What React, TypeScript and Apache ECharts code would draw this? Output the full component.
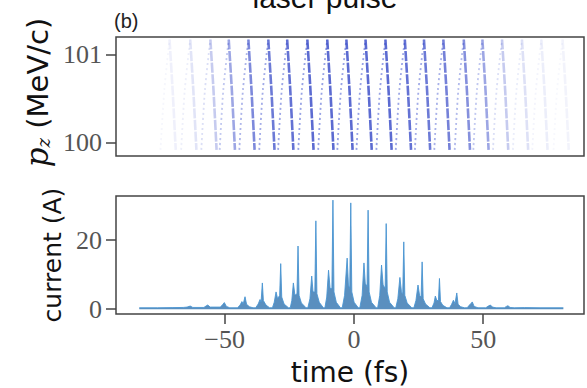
import React, { useEffect, useRef } from "react";
import * as echarts from "echarts";

// ---- axis ticks ----
const timeTicks = [-50, 0, 50];
const pzTicks = [100, 101];
const currentTicks = [0, 20];

// ---- bottom panel: current (A) vs time (fs) ----
const currentTime = [
  -83, -76, -70, -66, -64.5, -63.3, -62.3, -58, -57.2, -56.5, -55.6, -51.6, -50.8, -50.1, -49.3, -48,
  -45, -44, -43.3, -42.8, -42.1, -41.5, -40.4, -39,
  -38, -37, -36.3, -35.9, -35.4, -35.0, -34, -32.6,
  -31.5, -30.8, -30.1, -29.5, -28.7, -28.3, -27.9, -27, -25.3,
  -24.6, -24, -23.4, -22.8, -22, -21.6, -21.2, -20.3, -18.5,
  -17.8, -17, -16.3, -15.8, -15.1, -14.7, -14.3, -13.4, -11.8,
  -11.2, -10.5, -9.8, -9.2, -8.5, -8.1, -7.7, -6.8, -5.2,
  -4.5, -3.6, -2.6, -2.1, -1.6, -1.2, -0.8, 0.1, 1.7,
  2.3, 3.2, 3.9, 4.4, 5.1, 5.5, 5.9, 6.8, 8.6,
  9.2, 10, 10.7, 11.3, 12.1, 12.5, 12.9, 13.8, 15.6,
  16.2, 17, 17.8, 18.4, 18.9, 19.3, 19.7, 20.6, 22.4,
  23.2, 24, 24.8, 25.4, 26, 26.4, 26.8, 27.7, 29.4,
  30.2, 31, 31.5, 32.1, 32.7, 33.1, 33.5, 34.4, 36,
  37, 37.8, 38.5, 39.1, 39.8, 40.3, 41.3, 42.8,
  43.8, 44.6, 45.2, 45.8, 46.5, 48,
  51, 52, 52.8, 53.6, 55,
  58.2, 59, 59.6, 60.4, 62,
  66, 72, 81,
];
const currentAmp = [
  0.4, 0.4, 0.45, 0.5, 0.6, 0.9, 0.5, 0.5, 0.9, 1.2, 0.6, 0.6, 1.3, 1.9, 0.8, 0.4,
  0.4, 1.2, 2.2, 1.5, 3.6, 1.4, 0.7, 0.4,
  0.4, 1.5, 2.8, 2.0, 7.6, 2.5, 1.2, 0.4,
  0.4, 2.0, 5.0, 3.0, 4.0, 13.2, 3.5, 1.5, 0.4,
  0.4, 2.5, 7.6, 4, 4.5, 18.3, 4, 1.8, 0.4,
  0.4, 3, 9.6, 5, 5, 25.6, 4.5, 2, 0.4,
  0.4, 3.5, 11.3, 6, 6, 31.6, 5, 2, 0.4,
  0.4, 4, 14.8, 7, 6, 30.8, 5, 2, 0.4,
  0.4, 4, 13.4, 7.5, 6.5, 28.7, 5, 2, 0.4,
  0.4, 4, 12.8, 7, 6, 24.8, 5, 2, 0.4,
  0.4, 3, 9.2, 5, 4.5, 19.5, 4, 1.8, 0.4,
  0.4, 2.5, 7, 4, 3.5, 13.7, 3, 1.5, 0.4,
  0.4, 1.8, 3.8, 2.5, 2.5, 8.9, 2.2, 1.1, 0.4,
  0.4, 1.4, 2.6, 1.6, 4.7, 1.4, 0.7, 0.4,
  0.4, 1.1, 1.6, 2.1, 0.8, 0.4,
  0.4, 0.9, 1.2, 0.6, 0.4,
  0.4, 0.8, 1.0, 0.5, 0.4,
  0.45, 0.4, 0.4,
];

// ---- top panel: phase-space arcs (time in fs) ----
const arcTip = [-71.3, -63.3, -55.5, -48.4, -40.8, -33.1, -25.8, -18.0, -10.3, -2.9, 4.5, 12.2, 19.7, 27.1, 34.6, 42.5, 49.7, 57.3, 65.0, 72.5, 80.7];
const arcLeftFoot = [-74.8, -66.8, -59.0, -51.9, -44.3, -36.6, -29.3, -21.5, -13.8, -6.4, 1.0, 8.7, 16.2, 23.6, 31.1, 39.0, 46.2, 53.8, 61.5, 69.0, 77.2];
const arcLeftMid = [-73.3, -65.4, -57.6, -50.5, -42.9, -35.2, -27.9, -20.1, -12.4, -5.0, 2.4, 10.1, 17.6, 25.0, 32.5, 40.4, 47.6, 55.2, 62.9, 70.4, 78.6];
const arcRightMid = [-70.1, -62.1, -54.3, -47.2, -39.6, -31.9, -24.6, -16.8, -9.1, -1.7, 5.7, 13.4, 20.9, 28.3, 35.8, 43.7, 50.9, 58.5, 66.2, 73.7, 81.9];
const arcRightFoot = [-68.9, -60.9, -53.1, -46.0, -38.4, -30.7, -23.4, -15.6, -7.9, -0.5, 6.9, 14.6, 22.1, 29.5, 37.0, 44.9, 52.1, 59.7, 67.4, 74.9, 83.1];
const arcStrength = [0.1, 0.18, 0.35, 0.6, 0.8, 0.9, 0.95, 1, 1, 1, 1, 1, 0.95, 0.9, 0.85, 0.75, 0.6, 0.35, 0.2, 0.12, 0.08];
const arcPz = [99.92, 100.6, 101.17]; // foot, mid, tip

const minusFmt = (v: number) => (v < 0 ? "\u2212" + Math.abs(v) : String(v));

export default function App() {
  const ref = useRef<HTMLDivElement>(null);
  useEffect(() => {
    const chart = echarts.init(ref.current!, null, { renderer: "svg" });
    const tickFont = { fontFamily: "Liberation Serif", fontSize: 26, color: "#555" };
    const frame = "#444";

    const arcSeries: any[] = [];
    arcTip.forEach((tip, i) => {
      const s = arcStrength[i];
      arcSeries.push({
        type: "line",
        xAxisIndex: 0,
        yAxisIndex: 0,
        showSymbol: false,
        smooth: 0.3,
        data: [
          [arcLeftFoot[i], arcPz[0]],
          [arcLeftMid[i], arcPz[1]],
          [tip, arcPz[2]],
        ],
        lineStyle: { color: "#4457d0", width: 1.8, type: [2, 3], opacity: 0.55 * s },
      });
      arcSeries.push({
        type: "line",
        xAxisIndex: 0,
        yAxisIndex: 0,
        showSymbol: false,
        smooth: 0.2,
        data: [
          [tip, arcPz[2]],
          [arcRightMid[i], arcPz[1]],
          [arcRightFoot[i], arcPz[0]],
        ],
        lineStyle: { color: "#3346c6", width: 2.6, type: [10, 1.5], opacity: 0.8 * s },
      });
    });

    const noLine = { show: false, onZero: false };

    const option: any = {
      animation: false,
      backgroundColor: "#fff",
      graphic: [
        {
          type: "text",
          x: 325,
          y: -3,
          style: {
            text: "laser pulse",
            fontFamily: "Liberation Sans",
            fontSize: 30,
            fill: "#111",
            textAlign: "center",
            textVerticalAlign: "middle",
          },
        },
        {
          type: "text",
          x: 114,
          y: 21,
          style: {
            text: "(b)",
            fontFamily: "Liberation Sans",
            fontSize: 20,
            fill: "#222",
            textAlign: "left",
            textVerticalAlign: "middle",
          },
        },
      ],
      grid: [
        { left: 116, right: 3, top: 37, height: 119, show: true, borderColor: frame, borderWidth: 1.5 },
        { left: 116, right: 3, top: 196, height: 118, show: true, borderColor: frame, borderWidth: 1.5 },
      ],
      xAxis: [
        {
          type: "value",
          gridIndex: 0,
          min: -92,
          max: 89,
          axisLine: noLine,
          axisTick: { show: false },
          axisLabel: { show: false },
          splitLine: { show: false },
        },
        {
          type: "value",
          gridIndex: 1,
          min: -92,
          max: 89,
          name: "time (fs)",
          nameLocation: "middle",
          nameGap: 44,
          nameTextStyle: { fontFamily: "DejaVu Sans", fontSize: 28, color: "#111" },
          axisLine: noLine,
          axisTick: { show: true, customValues: timeTicks, length: 10, lineStyle: { color: frame, width: 1.5 } },
          axisLabel: { customValues: timeTicks, formatter: minusFmt, margin: 12, ...tickFont },
          splitLine: { show: false },
        },
      ],
      yAxis: [
        {
          type: "value",
          gridIndex: 0,
          min: 99.85,
          max: 101.2,
          name: "{p|p}{z|z}{u| (MeV/c)}",
          nameLocation: "middle",
          nameRotate: 90,
          nameGap: 63,
          nameTextStyle: {
            padding: [0, 0, 0, 8],
            rich: {
              p: { fontFamily: "DejaVu Serif", fontStyle: "italic", fontSize: 31, color: "#111", verticalAlign: "bottom", lineHeight: 35 },
              z: { fontFamily: "DejaVu Serif", fontStyle: "italic", fontSize: 18, color: "#111", verticalAlign: "bottom", lineHeight: 18 },
              u: { fontFamily: "DejaVu Sans", fontSize: 29, color: "#111", verticalAlign: "bottom", lineHeight: 35 },
            },
          },
          axisLine: noLine,
          axisTick: { show: true, customValues: pzTicks, length: 10, lineStyle: { color: frame, width: 1.5 } },
          axisLabel: { customValues: pzTicks, margin: 14, ...tickFont },
          splitLine: { show: false },
        },
        {
          type: "value",
          gridIndex: 1,
          min: -1.4,
          max: 32.8,
          name: "current (A)",
          nameLocation: "middle",
          nameRotate: 90,
          nameGap: 46,
          nameTextStyle: { fontFamily: "DejaVu Sans", fontSize: 25, color: "#111" },
          axisLine: noLine,
          axisTick: { show: true, customValues: currentTicks, length: 10, lineStyle: { color: frame, width: 1.5 } },
          axisLabel: { customValues: currentTicks, margin: 14, ...tickFont },
          splitLine: { show: false },
        },
      ],
      series: [
        ...arcSeries,
        {
          type: "line",
          xAxisIndex: 1,
          yAxisIndex: 1,
          showSymbol: false,
          data: currentTime.map((t, i) => [t, currentAmp[i]]),
          lineStyle: { color: "#4a95d2", width: 0.9 },
          areaStyle: { color: "#1a64a6", opacity: 0.72 },
        },
      ],
    };
    chart.setOption(option);
    return () => chart.dispose();
  }, []);
  return <div ref={ref} style={{ position: "absolute", left: 0, top: 0, width: 587, height: 388 }} />;
}
